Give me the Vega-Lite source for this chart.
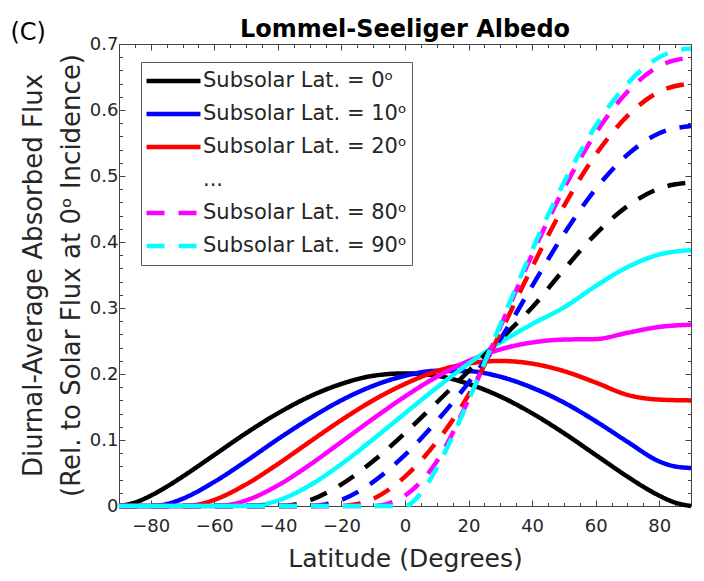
{
  "$schema": "https://vega.github.io/schema/vega-lite/v6.json",
  "width": 572,
  "height": 462,
  "autosize": "none",
  "padding": {"left": 119, "top": 44, "right": 13, "bottom": 75},
  "background": "white",
  "title": {"text": "Lommel-Seeliger Albedo", "fontSize": 24, "fontWeight": "bold", "font": "DejaVu Sans", "color": "#000000", "anchor": "middle", "frame": "group", "offset": -40, "baseline": "alphabetic"},
  "datasets": {
    "curves": [
      {"d":"0","lat":-90,"v":0},{"d":"0","lat":-85,"v":0.0052},{"d":"0","lat":-80,"v":0.0157},{"d":"0","lat":-75,"v":0.0292},{"d":"0","lat":-70,"v":0.0445},{"d":"0","lat":-60,"v":0.0774},{"d":"0","lat":-50,"v":0.1104},{"d":"0","lat":-40,"v":0.1405},{"d":"0","lat":-30,"v":0.1659},{"d":"0","lat":-20,"v":0.185},{"d":"0","lat":-10,"v":0.1973},{"d":"0","lat":0,"v":0.2009},{"d":"0","lat":10,"v":0.1973},{"d":"0","lat":20,"v":0.185},{"d":"0","lat":30,"v":0.1659},{"d":"0","lat":40,"v":0.1405},{"d":"0","lat":50,"v":0.1104},{"d":"0","lat":60,"v":0.0774},{"d":"0","lat":70,"v":0.0445},{"d":"0","lat":75,"v":0.0292},{"d":"0","lat":80,"v":0.0157},{"d":"0","lat":85,"v":0.0052},{"d":"0","lat":90,"v":0},
      {"d":"10","lat":-90,"v":0},{"d":"10","lat":-80,"v":0},{"d":"10","lat":-75,"v":0.0029},{"d":"10","lat":-70,"v":0.011},{"d":"10","lat":-60,"v":0.0366},{"d":"10","lat":-50,"v":0.068},{"d":"10","lat":-40,"v":0.1013},{"d":"10","lat":-30,"v":0.1324},{"d":"10","lat":-20,"v":0.1602},{"d":"10","lat":-10,"v":0.1821},{"d":"10","lat":0,"v":0.1973},{"d":"10","lat":10,"v":0.2048},{"d":"10","lat":20,"v":0.2043},{"d":"10","lat":30,"v":0.1958},{"d":"10","lat":40,"v":0.1793},{"d":"10","lat":50,"v":0.1568},{"d":"10","lat":60,"v":0.1285},{"d":"10","lat":70,"v":0.0973},{"d":"10","lat":80,"v":0.0676},{"d":"10","lat":85,"v":0.0599},{"d":"10","lat":90,"v":0.0576},
      {"d":"20","lat":-90,"v":0},{"d":"20","lat":-70,"v":0},{"d":"20","lat":-65,"v":0.0023},{"d":"20","lat":-60,"v":0.0093},{"d":"20","lat":-50,"v":0.0328},{"d":"20","lat":-40,"v":0.0636},{"d":"20","lat":-30,"v":0.0972},{"d":"20","lat":-20,"v":0.1302},{"d":"20","lat":-10,"v":0.1602},{"d":"20","lat":0,"v":0.185},{"d":"20","lat":10,"v":0.2043},{"d":"20","lat":20,"v":0.2159},{"d":"20","lat":30,"v":0.2198},{"d":"20","lat":40,"v":0.2157},{"d":"20","lat":50,"v":0.2044},{"d":"20","lat":60,"v":0.1871},{"d":"20","lat":70,"v":0.1684},{"d":"20","lat":80,"v":0.1612},{"d":"20","lat":90,"v":0.16},
      {"d":"30","lat":-90,"v":0},{"d":"30","lat":-60,"v":0},{"d":"30","lat":-55,"v":0.0021},{"d":"30","lat":-50,"v":0.0085},{"d":"30","lat":-40,"v":0.0312},{"d":"30","lat":-30,"v":0.0623},{"d":"30","lat":-20,"v":0.0972},{"d":"30","lat":-10,"v":0.1324},{"d":"30","lat":0,"v":0.1659},{"d":"30","lat":10,"v":0.1958},{"d":"30","lat":20,"v":0.2198},{"d":"30","lat":30,"v":0.2373},{"d":"30","lat":40,"v":0.2478},{"d":"30","lat":50,"v":0.2522},{"d":"30","lat":60,"v":0.2529},{"d":"30","lat":70,"v":0.2624},{"d":"30","lat":80,"v":0.2713},{"d":"30","lat":90,"v":0.2747},
      {"d":"40","lat":-90,"v":0},{"d":"40","lat":-50,"v":0},{"d":"40","lat":-45,"v":0.002},{"d":"40","lat":-40,"v":0.0083},{"d":"40","lat":-30,"v":0.0312},{"d":"40","lat":-20,"v":0.0636},{"d":"40","lat":-10,"v":0.1013},{"d":"40","lat":0,"v":0.1405},{"d":"40","lat":10,"v":0.1793},{"d":"40","lat":20,"v":0.2157},{"d":"40","lat":30,"v":0.2478},{"d":"40","lat":40,"v":0.2756},{"d":"40","lat":50,"v":0.3008},{"d":"40","lat":60,"v":0.3332},{"d":"40","lat":70,"v":0.362},{"d":"40","lat":80,"v":0.381},{"d":"40","lat":90,"v":0.3877},
      {"d":"50","lat":-90,"v":0},{"d":"50","lat":-40,"v":0},{"d":"50","lat":-35,"v":0.002},{"d":"50","lat":-30,"v":0.0085},{"d":"50","lat":-20,"v":0.0328},{"d":"50","lat":-10,"v":0.068},{"d":"50","lat":0,"v":0.1104},{"d":"50","lat":10,"v":0.1568},{"d":"50","lat":20,"v":0.2044},{"d":"50","lat":30,"v":0.2522},{"d":"50","lat":40,"v":0.3008},{"d":"50","lat":50,"v":0.3581},{"d":"50","lat":60,"v":0.412},{"d":"50","lat":70,"v":0.4543},{"d":"50","lat":80,"v":0.481},{"d":"50","lat":90,"v":0.4902},
      {"d":"60","lat":-90,"v":0},{"d":"60","lat":-30,"v":0},{"d":"60","lat":-25,"v":0.0024},{"d":"60","lat":-20,"v":0.0093},{"d":"60","lat":-10,"v":0.0366},{"d":"60","lat":0,"v":0.0774},{"d":"60","lat":10,"v":0.1285},{"d":"60","lat":20,"v":0.1871},{"d":"60","lat":30,"v":0.2529},{"d":"60","lat":40,"v":0.3332},{"d":"60","lat":50,"v":0.412},{"d":"60","lat":60,"v":0.4803},{"d":"60","lat":70,"v":0.5323},{"d":"60","lat":80,"v":0.5648},{"d":"60","lat":90,"v":0.5758},
      {"d":"70","lat":-90,"v":0},{"d":"70","lat":-20,"v":0},{"d":"70","lat":-15,"v":0.003},{"d":"70","lat":-10,"v":0.011},{"d":"70","lat":0,"v":0.0445},{"d":"70","lat":10,"v":0.0973},{"d":"70","lat":20,"v":0.1684},{"d":"70","lat":30,"v":0.2624},{"d":"70","lat":40,"v":0.362},{"d":"70","lat":50,"v":0.4543},{"d":"70","lat":60,"v":0.5323},{"d":"70","lat":70,"v":0.5911},{"d":"70","lat":80,"v":0.6276},{"d":"70","lat":90,"v":0.64},
      {"d":"80","lat":-90,"v":0},{"d":"80","lat":-10,"v":0},{"d":"80","lat":-5,"v":0.004},{"d":"80","lat":0,"v":0.0157},{"d":"80","lat":10,"v":0.0676},{"d":"80","lat":20,"v":0.1612},{"d":"80","lat":30,"v":0.2713},{"d":"80","lat":40,"v":0.381},{"d":"80","lat":50,"v":0.481},{"d":"80","lat":60,"v":0.5648},{"d":"80","lat":70,"v":0.6276},{"d":"80","lat":80,"v":0.6665},{"d":"80","lat":90,"v":0.6797},
      {"d":"90","lat":-90,"v":0},{"d":"90","lat":0,"v":0},{"d":"90","lat":5,"v":0.0192},{"d":"90","lat":10,"v":0.0576},{"d":"90","lat":15,"v":0.106},{"d":"90","lat":20,"v":0.16},{"d":"90","lat":25,"v":0.2168},{"d":"90","lat":30,"v":0.2747},{"d":"90","lat":35,"v":0.332},{"d":"90","lat":40,"v":0.3877},{"d":"90","lat":45,"v":0.4407},{"d":"90","lat":50,"v":0.4902},{"d":"90","lat":55,"v":0.5354},{"d":"90","lat":60,"v":0.5758},{"d":"90","lat":65,"v":0.6108},{"d":"90","lat":70,"v":0.64},{"d":"90","lat":75,"v":0.6631},{"d":"90","lat":80,"v":0.6797},{"d":"90","lat":85,"v":0.6898},{"d":"90","lat":90,"v":0.6931}
    ],
    "tag": [{"lat": -118.6, "v": 0.716, "t": "(C)"}]
  },
  "layer": [
    {
      "data": {"name": "curves"},
      "mark": {"type": "line", "strokeWidth": 4.5, "interpolate": "monotone", "strokeCap": "butt"},
      "encoding": {
        "x": {"field": "lat", "type": "quantitative", "scale": {"domain": [-90, 90], "nice": false, "zero": false},
          "axis": {"orient": "bottom", "values": [-80, -60, -40, -20, 0, 20, 40, 60, 80], "format": "d", "tickSize": -6, "labelPadding": 17, "labelFontSize": 18, "labelColor": "#262626", "title": "Latitude (Degrees)", "titleFontSize": 25, "titleFontWeight": "normal", "titleColor": "#262626", "titlePadding": 11}},
        "y": {"field": "v", "type": "quantitative", "scale": {"domain": [0, 0.7], "nice": false, "zero": false},
          "axis": {"orient": "left", "values": [0, 0.1, 0.2, 0.3, 0.4, 0.5, 0.6, 0.7], "format": "~g", "tickSize": -6, "labelPadding": 7, "labelFontSize": 18, "labelColor": "#262626", "title": ["Diurnal-Average Absorbed Flux", "(Rel. to Solar Flux at 0ᵒ Incidence)"], "titleFontSize": 26, "titleFontWeight": "normal", "titleColor": "#262626", "titleLineHeight": 38, "titlePadding": 5}},
        "color": {"field": "d", "type": "nominal",
          "scale": {"domain": ["0", "10", "20", "...", "30", "40", "50", "60", "70", "80", "90"], "range": ["#000000", "#0000ff", "#ff0000", "transparent", "#ff00ff", "#00ffff", "#000000", "#0000ff", "#ff0000", "#ff00ff", "#00ffff"]},
          "legend": {"values": ["0", "10", "20", "...", "80", "90"], "title": null, "orient": "none", "legendX": 22, "legendY": 18, "labelExpr": "datum.label == '...' ? '...' : 'Subsolar Lat. = ' + datum.label + 'ᵒ'"}},
        "strokeDash": {"field": "d", "type": "nominal",
          "scale": {"domain": ["0", "10", "20", "...", "30", "40", "50", "60", "70", "80", "90"], "range": [[1, 0], [1, 0], [1, 0], [1, 0], [1, 0], [1, 0], [18, 14], [18, 14], [18, 14], [18, 14], [18, 14]]},
          "legend": {"values": ["0", "10", "20", "...", "80", "90"], "title": null, "orient": "none", "legendX": 22, "legendY": 18, "labelExpr": "datum.label == '...' ? '...' : 'Subsolar Lat. = ' + datum.label + 'ᵒ'"}}
      }
    },
    {
      "data": {"name": "tag"},
      "mark": {"type": "text", "fontSize": 24, "font": "DejaVu Sans", "color": "#000000", "align": "center", "baseline": "middle"},
      "encoding": {
        "x": {"field": "lat", "type": "quantitative", "scale": {"domain": [-90, 90], "nice": false, "zero": false},
          "axis": {"orient": "top", "values": [-80, -60, -40, -20, 0, 20, 40, 60, 80], "labels": false, "tickSize": -6, "title": null}},
        "y": {"field": "v", "type": "quantitative", "scale": {"domain": [0, 0.7], "nice": false, "zero": false},
          "axis": {"orient": "right", "values": [0, 0.1, 0.2, 0.3, 0.4, 0.5, 0.6, 0.7], "labels": false, "tickSize": -6, "title": null}},
        "text": {"field": "t"}
      }
    },
    {
      "data": {"name": "tag"},
      "mark": {"type": "point", "opacity": 0},
      "encoding": {
        "x": {"field": "lat", "type": "quantitative", "scale": {"domain": [-90, 90], "nice": false, "zero": false},
          "axis": {"orient": "bottom", "values": [-85, -75, -70, -65, -55, -50, -45, -35, -30, -25, -15, -10, -5, 5, 10, 15, 25, 30, 35, 45, 50, 55, 65, 70, 75, 85], "labels": false, "domain": false, "tickSize": -3.5, "title": null}},
        "y": {"field": "v", "type": "quantitative", "scale": {"domain": [0, 0.7], "nice": false, "zero": false},
          "axis": {"orient": "left", "values": [0.02, 0.04, 0.06, 0.08, 0.12, 0.14, 0.16, 0.18, 0.22, 0.24, 0.26, 0.28, 0.32, 0.34, 0.36, 0.38, 0.42, 0.44, 0.46, 0.48, 0.52, 0.54, 0.56, 0.58, 0.62, 0.64, 0.66, 0.68], "labels": false, "domain": false, "tickSize": -3.5, "title": null}}
      }
    },
    {
      "data": {"name": "tag"},
      "mark": {"type": "point", "opacity": 0},
      "encoding": {
        "x": {"field": "lat", "type": "quantitative", "scale": {"domain": [-90, 90], "nice": false, "zero": false},
          "axis": {"orient": "top", "values": [-85, -75, -70, -65, -55, -50, -45, -35, -30, -25, -15, -10, -5, 5, 10, 15, 25, 30, 35, 45, 50, 55, 65, 70, 75, 85], "labels": false, "domain": false, "tickSize": -3.5, "title": null}},
        "y": {"field": "v", "type": "quantitative", "scale": {"domain": [0, 0.7], "nice": false, "zero": false},
          "axis": {"orient": "right", "values": [0.02, 0.04, 0.06, 0.08, 0.12, 0.14, 0.16, 0.18, 0.22, 0.24, 0.26, 0.28, 0.32, 0.34, 0.36, 0.38, 0.42, 0.44, 0.46, 0.48, 0.52, 0.54, 0.56, 0.58, 0.62, 0.64, 0.66, 0.68], "labels": false, "domain": false, "tickSize": -3.5, "title": null}}
      }
    }
  ],
  "resolve": {"axis": {"x": "independent", "y": "independent"}},
  "config": {
    "font": "DejaVu Sans",
    "view": {"stroke": "#444444", "strokeWidth": 1},
    "axis": {"grid": false, "domainColor": "#444444", "tickColor": "#444444", "tickWidth": 1, "labelFont": "DejaVu Sans", "titleFont": "DejaVu Sans"},
    "legend": {"symbolType": "stroke", "symbolSize": 2916, "symbolStrokeWidth": 4.5, "clipHeight": 28, "rowPadding": 5, "labelFontSize": 21, "labelFont": "DejaVu Sans", "labelColor": "#262626", "labelOffset": 0, "padding": 5, "strokeColor": "#5a5a5a", "fillColor": "#ffffff", "symbolOffset": -2, "labelLimit": 400}
  }
}
